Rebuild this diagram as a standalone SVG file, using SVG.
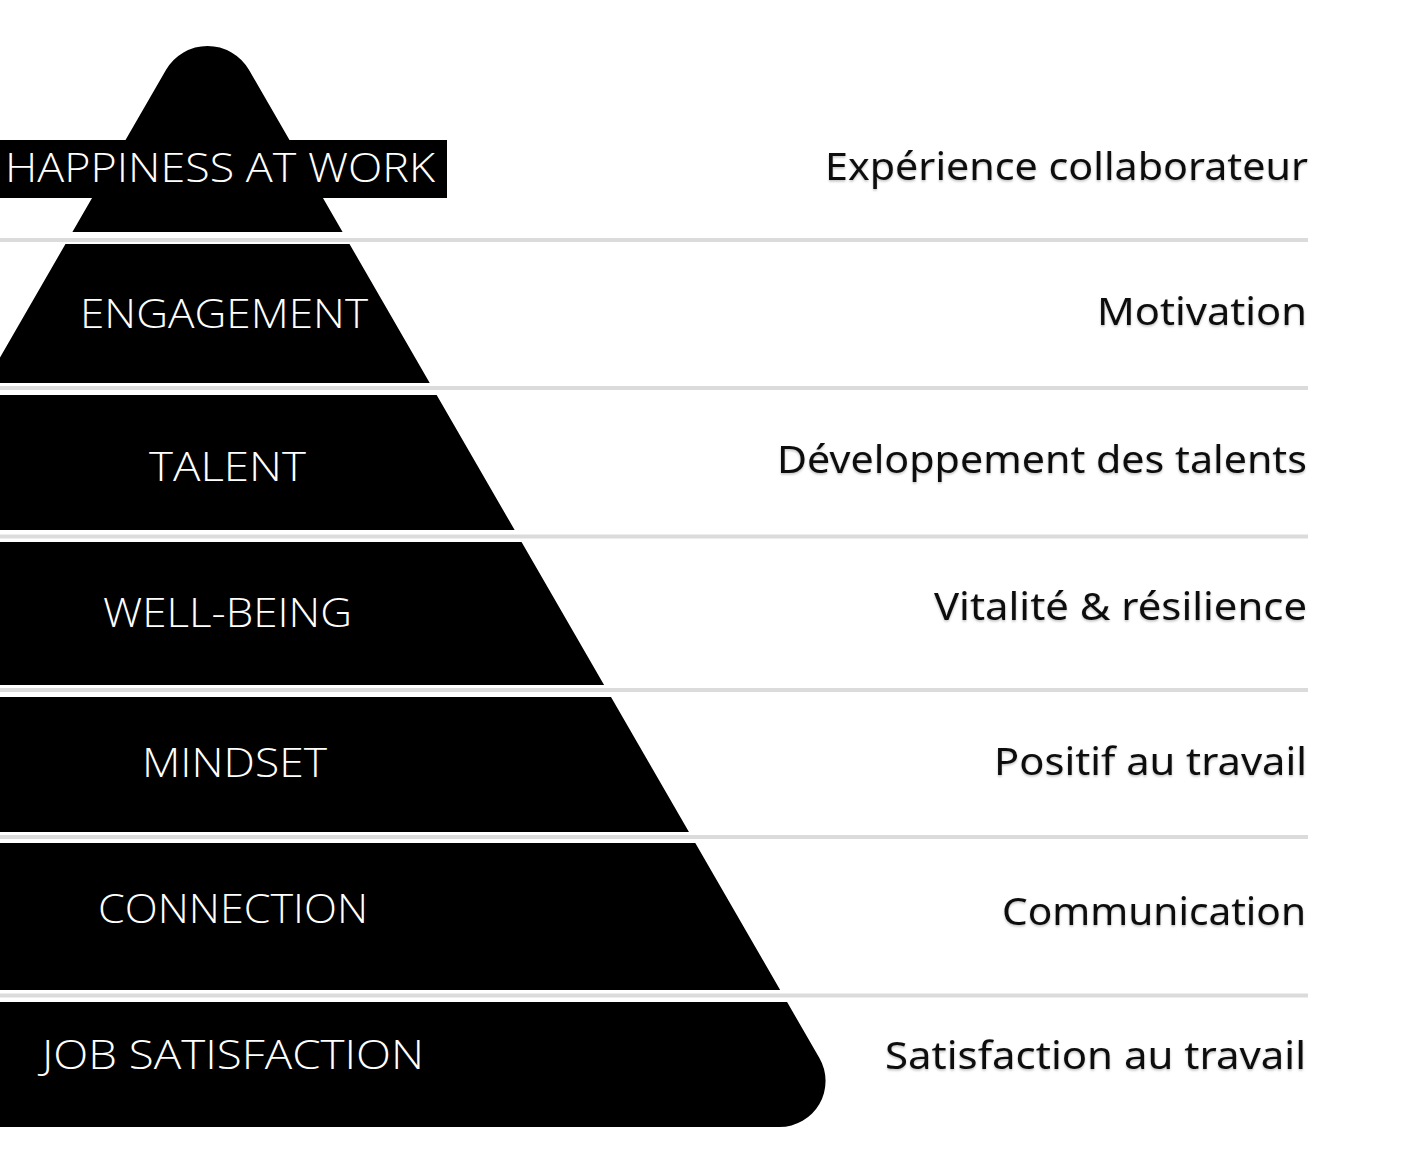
<svg xmlns="http://www.w3.org/2000/svg" width="1408" height="1164" viewBox="0 0 1408 1164">
  <style>
    .band { fill: #000000; }
    .lbl { fill: #ffffff; font-family: "Open Sans", "Noto Sans", "Liberation Sans", sans-serif; font-size: 41px; font-weight: 300; }
    .desc { fill: #111111; font-family: "Noto Sans", "Open Sans", "Liberation Sans", sans-serif; font-size: 38px; font-weight: 400; text-anchor: end; filter: url(#soft); }
    .rule { stroke: #dcdbdb; stroke-width: 4; fill: none; }
  </style>
  <defs>
    <clipPath id="pyr">
      <path d="M 165.93 70 A 48 48 0 0 1 249.07 70 L 819.4 1058 A 46 46 0 0 1 779.6 1127 L -444.3 1127 Z"/>
    </clipPath>
    <filter id="soft" x="-5%" y="-20%" width="110%" height="150%">
      <feDropShadow dx="0" dy="1.5" stdDeviation="1.2" flood-color="#000000" flood-opacity="0.25"/>
    </filter>
  </defs>
  <rect x="0" y="0" width="1408" height="1164" fill="#ffffff"/>

  <g id="connectors">
    <line class="rule" x1="0" y1="240" x2="1308" y2="240"/>
    <line class="rule" x1="0" y1="388" x2="1308" y2="388"/>
    <line class="rule" x1="0" y1="536.5" x2="1308" y2="536.5"/>
    <line class="rule" x1="0" y1="690" x2="1308" y2="690"/>
    <line class="rule" x1="0" y1="837" x2="1308" y2="837"/>
    <line class="rule" x1="0" y1="995.5" x2="1308" y2="995.5"/>
  </g>

  <g id="node-happiness">
    <rect class="band" x="-500" y="0" width="1400" height="232" clip-path="url(#pyr)"/>
    <rect class="band" x="0" y="140" width="447" height="58"/>
    <text class="lbl" x="5" y="182" textLength="430" lengthAdjust="spacingAndGlyphs">HAPPINESS AT WORK</text>
    <text class="desc" x="1308" y="180" textLength="483" lengthAdjust="spacingAndGlyphs">Expérience collaborateur</text>
  </g>

  <g id="node-engagement">
    <rect class="band" x="-500" y="244" width="1400" height="139" clip-path="url(#pyr)"/>
    <text class="lbl" x="80" y="328" textLength="288" lengthAdjust="spacingAndGlyphs">ENGAGEMENT</text>
    <text class="desc" x="1307" y="325" textLength="210" lengthAdjust="spacingAndGlyphs">Motivation</text>
  </g>

  <g id="node-talent">
    <rect class="band" x="-500" y="395" width="1400" height="135" clip-path="url(#pyr)"/>
    <text class="lbl" x="149" y="481" textLength="157" lengthAdjust="spacingAndGlyphs">TALENT</text>
    <text class="desc" x="1307" y="473" textLength="530" lengthAdjust="spacingAndGlyphs">Développement des talents</text>
  </g>

  <g id="node-wellbeing">
    <rect class="band" x="-500" y="542" width="1400" height="143" clip-path="url(#pyr)"/>
    <text class="lbl" x="103" y="627" textLength="249" lengthAdjust="spacingAndGlyphs">WELL-BEING</text>
    <text class="desc" x="1307" y="620" textLength="373" lengthAdjust="spacingAndGlyphs">Vitalité &amp; résilience</text>
  </g>

  <g id="node-mindset">
    <rect class="band" x="-500" y="697" width="1400" height="135" clip-path="url(#pyr)"/>
    <text class="lbl" x="142" y="777" textLength="185" lengthAdjust="spacingAndGlyphs">MINDSET</text>
    <text class="desc" x="1307" y="775" textLength="313" lengthAdjust="spacingAndGlyphs">Positif au travail</text>
  </g>

  <g id="node-connection">
    <rect class="band" x="-500" y="843" width="1400" height="147" clip-path="url(#pyr)"/>
    <text class="lbl" x="98" y="923" textLength="270" lengthAdjust="spacingAndGlyphs">CONNECTION</text>
    <text class="desc" x="1306" y="925" textLength="304" lengthAdjust="spacingAndGlyphs">Communication</text>
  </g>

  <g id="node-job-satisfaction">
    <rect class="band" x="-500" y="1002" width="1400" height="130" clip-path="url(#pyr)"/>
    <text class="lbl" x="42" y="1069" textLength="382" lengthAdjust="spacingAndGlyphs">JOB SATISFACTION</text>
    <text class="desc" x="1306" y="1069" textLength="421" lengthAdjust="spacingAndGlyphs">Satisfaction au travail</text>
  </g>
</svg>
